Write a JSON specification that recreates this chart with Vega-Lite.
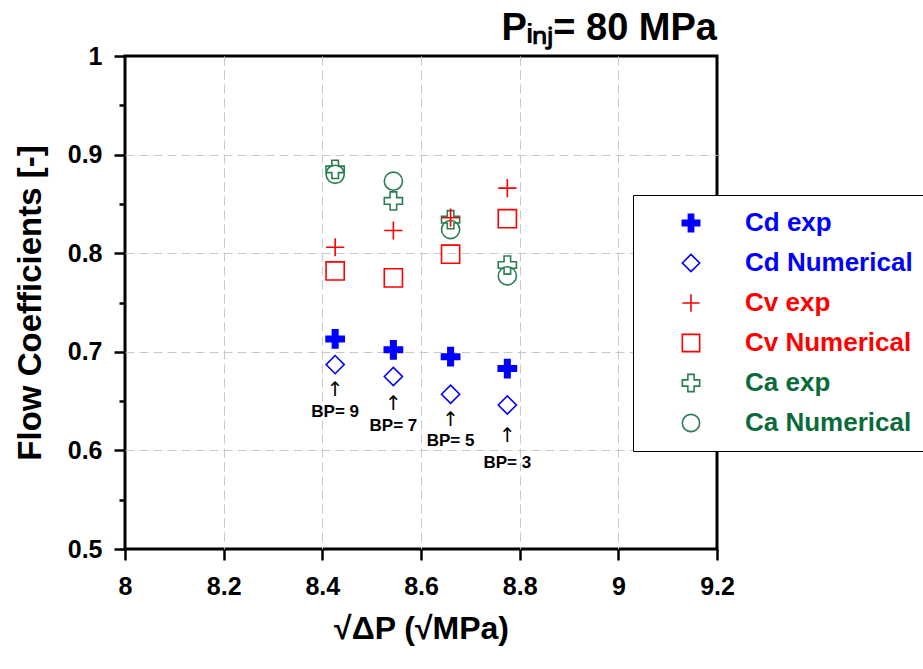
{
  "$schema": "https://vega.github.io/schema/vega-lite/v6.json",
  "width": 592,
  "height": 493,
  "autosize": "none",
  "padding": {"left": 125, "top": 56, "right": 206, "bottom": 120},
  "background": "white",
  "config": {
    "view": {"stroke": "black", "strokeWidth": 3},
    "font": "Liberation Sans"
  },
  "title": {
    "text": "Pᵢₙⱼ= 80 MPa",
    "anchor": "end",
    "frame": "group",
    "font": "Liberation Sans",
    "fontSize": 38,
    "fontWeight": "bold",
    "color": "black",
    "offset": -4
  },
  "datasets": {
    "points": [
      {"series": "Cd exp", "x": 8.426, "y": 0.713},
      {"series": "Cd exp", "x": 8.544, "y": 0.702},
      {"series": "Cd exp", "x": 8.660, "y": 0.695},
      {"series": "Cd exp", "x": 8.775, "y": 0.683},
      {"series": "Cd Numerical", "x": 8.426, "y": 0.687},
      {"series": "Cd Numerical", "x": 8.544, "y": 0.675},
      {"series": "Cd Numerical", "x": 8.660, "y": 0.657},
      {"series": "Cd Numerical", "x": 8.775, "y": 0.646},
      {"series": "Ca exp", "x": 8.426, "y": 0.885},
      {"series": "Ca exp", "x": 8.544, "y": 0.853},
      {"series": "Ca exp", "x": 8.660, "y": 0.834},
      {"series": "Ca exp", "x": 8.775, "y": 0.788},
      {"series": "Ca Numerical", "x": 8.426, "y": 0.880},
      {"series": "Ca Numerical", "x": 8.544, "y": 0.873},
      {"series": "Ca Numerical", "x": 8.660, "y": 0.824},
      {"series": "Ca Numerical", "x": 8.775, "y": 0.777},
      {"series": "Cv exp", "x": 8.426, "y": 0.806},
      {"series": "Cv exp", "x": 8.544, "y": 0.823},
      {"series": "Cv exp", "x": 8.660, "y": 0.836},
      {"series": "Cv exp", "x": 8.775, "y": 0.866},
      {"series": "Cv Numerical", "x": 8.426, "y": 0.782},
      {"series": "Cv Numerical", "x": 8.544, "y": 0.775},
      {"series": "Cv Numerical", "x": 8.660, "y": 0.799},
      {"series": "Cv Numerical", "x": 8.775, "y": 0.835}
    ],
    "notes": [
      {"x": 8.426, "arrowY": 0.661, "labelY": 0.639, "label": "BP= 9"},
      {"x": 8.544, "arrowY": 0.647, "labelY": 0.625, "label": "BP= 7"},
      {"x": 8.660, "arrowY": 0.631, "labelY": 0.610, "label": "BP= 5"},
      {"x": 8.775, "arrowY": 0.615, "labelY": 0.587, "label": "BP= 3"}
    ]
  },
  "layer": [
    {
      "data": {"name": "points"},
      "mark": {"type": "point", "size": 330, "strokeWidth": 1.6, "opacity": 1},
      "encoding": {
        "x": {
          "field": "x", "type": "quantitative",
          "scale": {"domain": [8, 9.2], "nice": false, "zero": false},
          "title": "√ΔP   (√MPa)",
          "axis": {
            "values": [8, 8.2, 8.4, 8.6, 8.8, 9, 9.2],
            "format": "~g",
            "labelFont": "Liberation Sans",
            "labelFontSize": 25,
            "labelFontWeight": "bold",
            "labelColor": "black",
            "labelPadding": 14,
            "labelFlush": false,
            "tickSize": 11,
            "tickWidth": 2.5,
            "tickColor": "black",
            "domain": false,
            "grid": true,
            "gridDash": [9, 5],
            "gridColor": "#c8c8c8",
            "gridWidth": 1,
            "gridOpacity": {"condition": {"test": "datum.value > 8.01 && datum.value < 9.19", "value": 1}, "value": 0},
            "titleFont": "Liberation Sans",
            "titleFontSize": 32,
            "titleFontWeight": "bold",
            "titleColor": "black",
            "titlePadding": 14
          }
        },
        "y": {
          "field": "y", "type": "quantitative",
          "scale": {"domain": [0.5, 1], "nice": false, "zero": false},
          "title": "Flow Coefficients [-]",
          "axis": {
            "values": [0.5, 0.55, 0.6, 0.65, 0.7, 0.75, 0.8, 0.85, 0.9, 0.95, 1],
            "labelExpr": "abs(datum.value*10 - round(datum.value*10)) < 0.001 ? format(datum.value, '~g') : ''",
            "labelFont": "Liberation Sans",
            "labelFontSize": 25,
            "labelFontWeight": "bold",
            "labelColor": "black",
            "labelPadding": 12,
            "labelFlush": false,
            "tickSize": {"condition": {"test": "abs(datum.value*10 - round(datum.value*10)) < 0.001", "value": 11}, "value": 6},
            "tickWidth": 2.5,
            "tickColor": "black",
            "domain": false,
            "grid": true,
            "gridDash": [9, 5],
            "gridColor": "#c8c8c8",
            "gridWidth": 1,
            "gridOpacity": {"condition": {"test": "abs(datum.value*10 - round(datum.value*10)) < 0.001 && datum.value > 0.51 && datum.value < 0.99", "value": 1}, "value": 0},
            "titleFont": "Liberation Sans",
            "titleFontSize": 33,
            "titleFontWeight": "bold",
            "titleColor": "black",
            "titlePadding": 20
          }
        },
        "shape": {
          "field": "series", "type": "nominal",
          "scale": {
            "domain": ["Cd exp", "Cd Numerical", "Cv exp", "Cv Numerical", "Ca exp", "Ca Numerical"],
            "range": [
              "M-1,-0.3H-0.3V-1H0.3V-0.3H1V0.3H0.3V1H-0.3V0.3H-1Z",
              "diamond",
              "M-1,0L1,0M0,-1L0,1",
              "square",
              "M-1,-0.36H-0.36V-1H0.36V-0.36H1V0.36H0.36V1H-0.36V0.36H-1Z",
              "circle"
            ]
          },
          "legend": {
            "title": null, "orient": "none", "legendX": 508, "legendY": 139,
            "padding": 15, "rowPadding": 14, "symbolOffset": 30, "labelOffset": 41,
            "labelFont": "Liberation Sans", "labelFontSize": 26, "labelFontWeight": "bold", "labelLimit": 400,
            "labelColor": {"expr": "slice(datum.value,0,2)=='Cd' ? '#0000ff' : slice(datum.value,0,2)=='Cv' ? '#ff0000' : '#0a6b3a'"},
            "strokeColor": "black", "fillColor": "white", "symbolSize": 300, "symbolStrokeWidth": 1.6
          }
        },
        "fill": {
          "field": "series", "type": "nominal",
          "scale": {
            "domain": ["Cd exp", "Cd Numerical", "Cv exp", "Cv Numerical", "Ca exp", "Ca Numerical"],
            "range": ["#0000ff", "transparent", "transparent", "transparent", "transparent", "transparent"]
          },
          "legend": {
            "title": null, "orient": "none", "legendX": 508, "legendY": 139,
            "padding": 15, "rowPadding": 14, "symbolOffset": 30, "labelOffset": 41,
            "labelFont": "Liberation Sans", "labelFontSize": 26, "labelFontWeight": "bold", "labelLimit": 400,
            "labelColor": {"expr": "slice(datum.value,0,2)=='Cd' ? '#0000ff' : slice(datum.value,0,2)=='Cv' ? '#ff0000' : '#0a6b3a'"},
            "strokeColor": "black", "fillColor": "white", "symbolSize": 300, "symbolStrokeWidth": 1.6
          }
        },
        "stroke": {
          "field": "series", "type": "nominal",
          "scale": {
            "domain": ["Cd exp", "Cd Numerical", "Cv exp", "Cv Numerical", "Ca exp", "Ca Numerical"],
            "range": ["#0000ff", "#0000ff", "#ff0000", "#ff0000", "#2a7d50", "#2a7d50"]
          },
          "legend": {
            "title": null, "orient": "none", "legendX": 508, "legendY": 139,
            "padding": 15, "rowPadding": 14, "symbolOffset": 30, "labelOffset": 41,
            "labelFont": "Liberation Sans", "labelFontSize": 26, "labelFontWeight": "bold", "labelLimit": 400,
            "labelColor": {"expr": "slice(datum.value,0,2)=='Cd' ? '#0000ff' : slice(datum.value,0,2)=='Cv' ? '#ff0000' : '#0a6b3a'"},
            "strokeColor": "black", "fillColor": "white", "symbolSize": 300, "symbolStrokeWidth": 1.6
          }
        }
      }
    },
    {
      "data": {"name": "notes"},
      "mark": {"type": "text", "font": "DejaVu Sans", "fontSize": 20, "color": "black"},
      "encoding": {
        "x": {"field": "x", "type": "quantitative", "title": "√ΔP   (√MPa)"},
        "y": {"field": "arrowY", "type": "quantitative", "title": "Flow Coefficients [-]"},
        "text": {"value": "↑"}
      }
    },
    {
      "data": {"name": "notes"},
      "mark": {"type": "text", "font": "Liberation Sans", "fontSize": 17, "fontWeight": "bold", "color": "black"},
      "encoding": {
        "x": {"field": "x", "type": "quantitative", "title": "√ΔP   (√MPa)"},
        "y": {"field": "labelY", "type": "quantitative", "title": "Flow Coefficients [-]"},
        "text": {"field": "label"}
      }
    }
  ]
}
